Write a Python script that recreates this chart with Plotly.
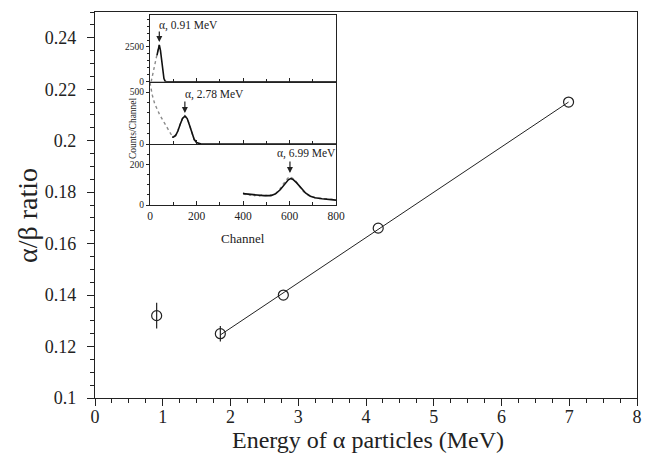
import plotly.graph_objects as go

# Main data
energy = [0.91, 1.85, 2.78, 4.18, 6.99]
ratio = [0.132, 0.125, 0.140, 0.166, 0.215]
ratio_err = [0.005, 0.003, 0.0, 0.0, 0.0]
fit_x = [1.85, 6.99]
fit_y = [0.1245, 0.2150]

# Inset panel 1 (0.91 MeV)
p1_data_ch = [5, 10, 15, 20, 25, 30, 35, 40]
p1_data_ct = [0, 350, 750, 1150, 1550, 1950, 2350, 2650]
p1_fit_ch = [30, 35, 40, 45, 50, 55, 60, 65, 70, 800]
p1_fit_ct = [1900, 2450, 2650, 2250, 1450, 700, 220, 40, 0, 0]

# Inset panel 2 (2.78 MeV)
p2_data_ch = [0, 10, 20, 30, 40, 50, 60, 70, 80, 90, 100, 110, 120, 130, 140, 150, 160, 170, 180, 190, 200]
p2_data_ct = [590, 470, 390, 330, 290, 250, 210, 170, 130, 95, 72, 85, 130, 195, 250, 275, 250, 185, 105, 40, 10]
p2_fit_ch = [95, 100, 110, 120, 130, 140, 150, 160, 170, 180, 190, 200, 210, 220, 800]
p2_fit_ct = [68, 66, 80, 125, 190, 245, 268, 245, 180, 105, 45, 14, 3, 0, 0]

# Inset panel 3 (6.99 MeV)
p3_data_ch = [400, 410, 420, 430, 440, 450, 460, 470, 480, 490, 500, 510, 520, 530, 540, 550, 560, 570, 580, 590,
              600, 610, 620, 630, 640, 650, 660, 670, 680, 690, 700, 710, 720, 730, 740, 750, 760, 770, 780, 790, 800]
p3_data_ct = [60, 52, 55, 48, 53, 46, 50, 44, 49, 45, 47, 42, 50, 48, 56, 66, 80, 98, 115, 128,
              140, 135, 126, 112, 95, 80, 66, 56, 48, 42, 40, 36, 38, 32, 34, 30, 31, 27, 29, 25, 24]
p3_fit_ch = [400, 430, 460, 490, 520, 540, 560, 580, 595, 605, 615, 630, 650, 670, 690, 710, 740, 770, 800]
p3_fit_ct = [56, 52, 49, 46, 46, 55, 75, 105, 124, 130, 126, 110, 82, 58, 43, 36, 31, 27, 24]

SERIF = "Liberation Serif"
INK = "#222222"

fig = go.Figure()

# main scatter
fig.add_trace(go.Scatter(x=fit_x, y=fit_y, mode="lines", line=dict(color=INK, width=1),
                         xaxis="x", yaxis="y", showlegend=False))
fig.add_trace(go.Scatter(x=energy, y=ratio, mode="markers",
                         marker=dict(symbol="circle-open", size=10, color=INK, line=dict(width=1.2, color=INK)),
                         error_y=dict(type="data", array=ratio_err, visible=True, color=INK, thickness=1.2, width=0),
                         xaxis="x", yaxis="y", showlegend=False))

# inset traces
def dots(x, y, xa, ya):
    fig.add_trace(go.Scatter(x=x, y=y, mode="lines", line=dict(color="#8a8a8a", width=1.4, dash="dot"),
                             xaxis=xa, yaxis=ya, showlegend=False))

def solid(x, y, xa, ya):
    fig.add_trace(go.Scatter(x=x, y=y, mode="lines", line=dict(color="#111111", width=1.6),
                             xaxis=xa, yaxis=ya, showlegend=False))

dots(p1_data_ch, p1_data_ct, "x4", "y4")
solid(p1_fit_ch, p1_fit_ct, "x4", "y4")
dots(p2_data_ch, p2_data_ct, "x3", "y3")
solid(p2_fit_ch, p2_fit_ct, "x3", "y3")
dots(p3_data_ch, p3_data_ct, "x2", "y2")
solid(p3_fit_ch, p3_fit_ct, "x2", "y2")

# geometry (paper fractions)
PL, PR, PT, PB = 95, 637, 12, 398
PW, PH = PR - PL, PB - PT

def px(x):
    return (x - PL) / PW

def py(y):
    return (PB - y) / PH

ix0, ix1 = px(150), px(336)
d1 = [py(81.7), py(15)]
d2 = [py(144), py(81.7)]
d3 = [py(205), py(144)]

main_axis = dict(showline=True, linecolor=INK, linewidth=1.3, mirror=True, ticks="outside",
                 ticklen=7, tickwidth=1.2, tickcolor=INK, showgrid=False, zeroline=False,
                 automargin=False,
                 tickfont=dict(family=SERIF, size=18, color=INK))

inset_x = dict(range=[0, 800], dtick=200, showline=True, linecolor=INK, linewidth=1.2, mirror=True,
               ticks="inside", ticklen=4, tickwidth=1, tickcolor=INK, showgrid=False, zeroline=False,
               automargin=False,
               minor=dict(dtick=100, ticks="inside", ticklen=2.5, tickcolor=INK),
               tickfont=dict(family=SERIF, size=11.5, color=INK), domain=[ix0, ix1])

def inset_y(rng, dt, mdt, dom, anchor):
    return dict(range=rng, tickvals=[0, dt], showline=True, linecolor=INK, linewidth=1.2, mirror=True,
                ticks="outside", ticklen=3, tickwidth=1, tickcolor=INK, showgrid=False, zeroline=False,
                automargin=False,
                minor=dict(dtick=mdt, ticks="outside", ticklen=2, tickcolor=INK),
                tickfont=dict(family=SERIF, size=9.5, color=INK), domain=dom, anchor=anchor)

y2 = inset_y([0, 300], 200, 50, d3, "x2")
y3 = inset_y([0, 600], 500, 100, d2, "x3")
y4 = inset_y([0, 4800], 2500, 500, d1, "x4")

x2 = dict(inset_x, anchor="y2")
x3 = dict(inset_x, anchor="y3", matches="x2", showticklabels=False)
x4 = dict(inset_x, anchor="y4", matches="x2", showticklabels=False)

fig.update_layout(
    width=649, height=457,
    margin=dict(l=PL, r=649 - PR, t=PT, b=457 - PB),
    paper_bgcolor="white", plot_bgcolor="white",
    font=dict(family=SERIF, color=INK),
    xaxis=dict(main_axis, range=[0, 8], dtick=1, ticklabelstandoff=-5,
               minor=dict(dtick=0.25, ticks="outside", ticklen=4, tickcolor=INK)),
    yaxis=dict(main_axis, range=[0.1, 0.25], dtick=0.02, tick0=0.1, ticklabelstandoff=7,
               minor=dict(dtick=0.005, ticks="outside", ticklen=4, tickcolor=INK)),
    xaxis2=x2, xaxis3=x3, xaxis4=x4,
    yaxis2=y2, yaxis3=y3, yaxis4=y4,
)

ann_font = dict(family=SERIF, size=11.5, color=INK)
arrow_kw = dict(showarrow=True, arrowhead=2, arrowsize=1, arrowwidth=1.2, arrowcolor=INK, ax=0, text="")

fig.add_annotation(x=40, y=2850, xref="x4", yref="y4", ay=-12, **arrow_kw)
fig.add_annotation(x=150, y=298, xref="x3", yref="y3", ay=-13, **arrow_kw)
fig.add_annotation(x=602, y=157, xref="x2", yref="y2", ay=-13, **arrow_kw)

fig.add_annotation(x=30, y=4080, xref="x4", yref="y4", text="α, 0.91 MeV", showarrow=False,
                   xanchor="left", yanchor="middle", font=ann_font)
fig.add_annotation(x=142, y=481, xref="x3", yref="y3", text="α, 2.78 MeV", showarrow=False,
                   xanchor="left", yanchor="middle", font=ann_font)
fig.add_annotation(x=538, y=251, xref="x2", yref="y2", text="α, 6.99 MeV", showarrow=False,
                   xanchor="left", yanchor="middle", font=ann_font)

# axis titles
def title(x, y, text, size, angle=0):
    fig.add_annotation(x=px(x), y=py(y), xref="paper", yref="paper", text=text, textangle=angle,
                       showarrow=False, xanchor="center", yanchor="middle",
                       font=dict(family=SERIF, size=size, color=INK))

title(133, 128, "Counts/Channel", 9.5, -90)
title(243, 238, "Channel", 13)
title(368, 440, "Energy of α particles (MeV)", 24)
title(27, 216, "α/β ratio", 28, -90)

fig.write_html("out.html", config={"displayModeBar": False},
               post_script="document.body.style.margin='0';")
